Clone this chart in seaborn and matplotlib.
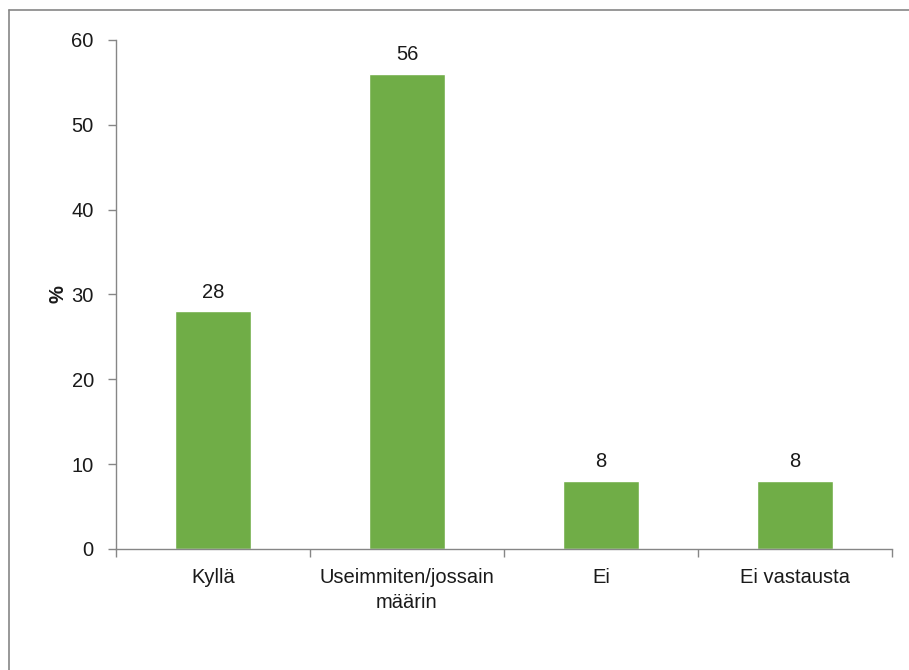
import matplotlib.pyplot as plt
import matplotlib.lines as mlines
import seaborn as sns
import numpy as np

# Data
categories = ["Kyllä", "Useimmiten/jossain\nmäärin", "Ei", "Ei vastausta"]
values = [28, 56, 8, 8]
y_ticks = [0, 10, 20, 30, 40, 50, 60]

bar_color = "#70AD47"
axis_gray = "#868686"
text_color = "#1a1a1a"

sns.set_style("white")
plt.rcParams['font.family'] = ['Liberation Sans', 'DejaVu Sans']

fig = plt.figure(figsize=(9.09, 6.70), dpi=100)
ax = fig.add_axes([0.1276, 0.1806, 0.8537, 0.7597])

sns.barplot(x=categories, y=values, color=bar_color, width=0.39, saturation=1, ax=ax)

ax.set_xlim(-0.5, len(categories) - 0.5)
ax.set_ylim(0, 60)
ax.set_yticks(y_ticks)
ax.set_yticklabels([str(t) for t in y_ticks], fontsize=14.5, color=text_color)

# x tick marks between categories, labels centred on bars
ax.set_xticks(np.arange(-0.5, len(categories), 1.0))
ax.set_xticklabels([])
ax.set_xticks(range(len(categories)), minor=True)
ax.set_xticklabels(categories, minor=True, fontsize=14.5, color=text_color, linespacing=1.4)
ax.tick_params(axis='x', which='minor', bottom=False, length=0, pad=14)
ax.tick_params(axis='x', which='major', bottom=True, length=6, width=1, color=axis_gray, direction='out')
ax.tick_params(axis='y', left=True, length=6, width=1, color=axis_gray, direction='out', pad=10)

ax.set_xlabel("")
ax.set_ylabel("%", fontsize=14.5, fontweight='bold', color=text_color, labelpad=3)

sns.despine(ax=ax, top=True, right=True)
for side in ['left', 'bottom']:
    ax.spines[side].set_color(axis_gray)
    ax.spines[side].set_linewidth(1)

# value labels above the bars
for i, v in enumerate(values):
    ax.annotate(f"{v}", xy=(i, v), xytext=(0, 7), textcoords="offset points",
                ha='center', va='bottom', fontsize=14.5, color=text_color)

# chart-area border (left and top edges visible)
fig.add_artist(mlines.Line2D([0.0095, 0.0095], [0.0, 0.9851], color=axis_gray, lw=1.2,
                             transform=fig.transFigure))
fig.add_artist(mlines.Line2D([0.0095, 1.0], [0.9851, 0.9851], color=axis_gray, lw=1.2,
                             transform=fig.transFigure))

fig.savefig("out.png", dpi=100)
